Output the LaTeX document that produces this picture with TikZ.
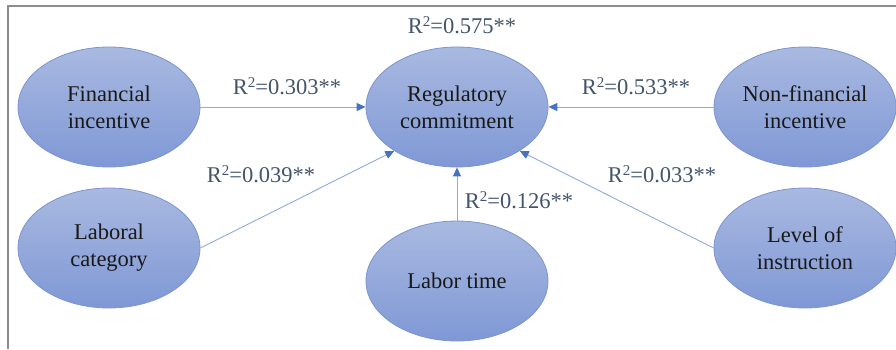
\documentclass[tikz,border=0pt]{standalone}
\usepackage{fontspec}
\setmainfont{Liberation Serif}
\usepackage{tikz}
\usetikzlibrary{shapes.geometric,arrows.meta}

\definecolor{fillTop}{HTML}{A9B9E1}
\definecolor{fillBottom}{HTML}{7F98D5}
\definecolor{rimBlue}{HTML}{7C94CF}
\definecolor{lineBlue}{HTML}{8FAADC}
\definecolor{tipBlue}{HTML}{4472C4}
\definecolor{labelGrey}{HTML}{44546A}
\definecolor{frameGrey}{HTML}{8C8C8C}

\newcommand{\rsq}[1]{R\raisebox{.65ex}{\fontsize{15}{15}\selectfont 2}=#1**}

\begin{document}
\begin{tikzpicture}[x=1pt,y=-1pt,
        factor/.style={ellipse,draw=rimBlue,line width=0.8pt,
            top color=fillTop,bottom color=fillBottom,
            minimum width=182pt,minimum height=120pt,inner sep=0pt,
            align=center,text=black!90,
            font=\fontsize{22.5}{27}\selectfont},
        link/.style={draw=lineBlue,line width=0.9pt,
            -{Triangle[length=9pt,width=8pt,color=tipBlue]}},
        coef/.style={anchor=base,text=labelGrey,inner sep=0pt,
            font=\fontsize{22.5}{26}\selectfont}
        ]
        \useasboundingbox (0,0) rectangle (896,349);
        % Frame
        \draw[frameGrey,line width=2pt] (8,349) -- (8,6) -- (896,6);

        % Factors
        \node[factor] (fin) at (109,107) {Financial\\incentive};
        \node[factor] (lab) at (109,248) {Laboral\\category};
        \node[factor] (reg) at (457,107) {Regulatory\\commitment};
        \node[factor] (time) at (457,281) {Labor time};
        \node[factor] (nonfin) at (805,107) {Non-financial\\incentive};
        \node[factor] (lev) at (805,248) {Level of\\instruction};

        %% Paths into the commitment
        \draw[link] (fin) -- (reg);
        \draw[link] (nonfin) -- (reg);
        \draw[link] (time) -- (reg);
        \draw[link] (lab.east) -- (reg.215);
        \draw[link] (lev.west) -- (reg.325);

        % Coefficients
        \node[coef] (r575) at (462,33) {\rsq{0.575}};
        \node[coef] (r303) at (287,94) {\rsq{0.303}};
        \node[coef] (r533) at (636,94) {\rsq{0.533}};
        \node[coef] (r039) at (261,182) {\rsq{0.039}};
        \node[coef] (r033) at (662,182) {\rsq{0.033}};
        \node[coef] (r126) at (519,208) {\rsq{0.126}};

    \end{tikzpicture}
\end{document}
